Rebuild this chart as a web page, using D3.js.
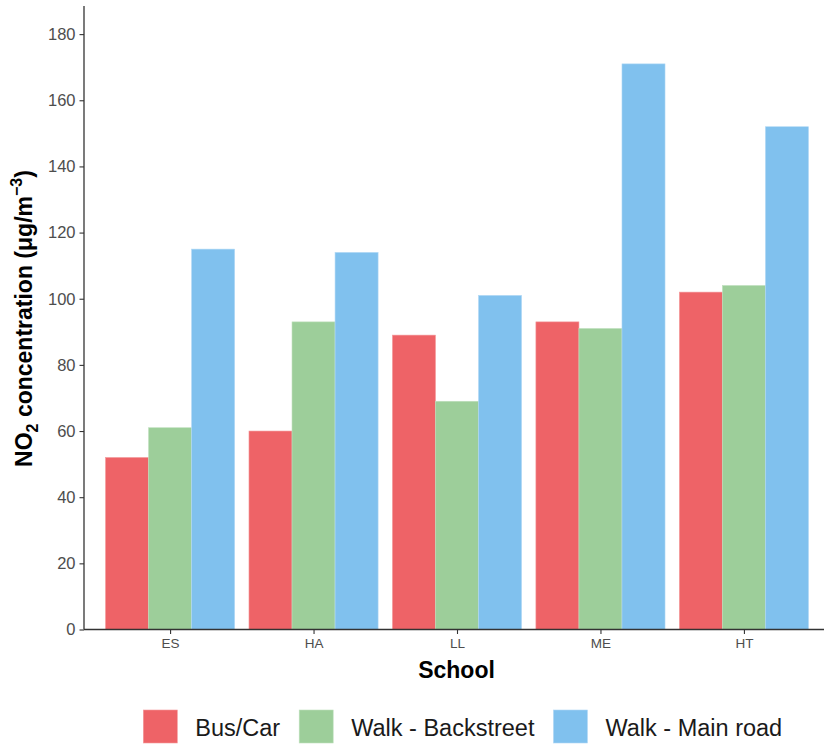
<!DOCTYPE html>
<html><head><meta charset="utf-8">
<script src="https://cdn.jsdelivr.net/npm/d3@7"></script>
<style>body{margin:0;background:#fff;} text{font-family:"Liberation Sans",Arial,sans-serif;}</style>
</head><body><svg id="c" width="824" height="747"></svg>
<script>
const schools = ["ES","HA","LL","ME","HT"];
const seriesNames = ["Bus/Car","Walk - Backstreet","Walk - Main road"];
const busCar = [52,60,89,93,102];
const walkBack = [61,93,69,91,104];
const walkMain = [115,114,101,171,152];
const yTicks = [0,20,40,60,80,100,120,140,160,180];
const colors = ["#EE6367","#9DCE9A","#80C1EE"];
const strokes = ["#F49A9C","#BFE0BD","#B0D8F5"];

(function(){
const svg = d3.select("#c");
const pLeft = 84, pRight = 830, pTop = 6, pBottom = 629.5;
const unit = (pRight-pLeft)/5.2;
const x = d3.scaleLinear().domain([0.4,5.6]).range([pLeft,pRight]);
const xc = d => x(1 + schools.indexOf(d));
const y = d3.scaleLinear().domain([0,188.5]).range([pBottom, pTop]);
const bw = unit*0.9/3;
const series = [busCar, walkBack, walkMain];

series.forEach((vals,si)=>{
  svg.append("g").selectAll("rect").data(schools).join("rect")
    .attr("x", d => xc(d) - unit*0.45 + si*bw)
    .attr("width", bw)
    .attr("y", (d,i) => y(vals[i]))
    .attr("height", (d,i) => y(0)-y(vals[i]))
    .attr("fill", colors[si])
    .attr("stroke", strokes[si]).attr("stroke-width",0.6);
});

const ya = svg.append("g").attr("transform",`translate(${pLeft},0)`)
  .call(d3.axisLeft(y).tickValues(yTicks).tickSize(4.5).tickPadding(4));
ya.attr("font-size",null);
ya.select(".domain").attr("stroke","#333").attr("stroke-width",1.3).attr("d",`M0,${pTop}V${pBottom}`);
ya.selectAll(".tick line").attr("stroke","#333").attr("stroke-width",1.1);
ya.selectAll(".tick text").attr("fill","#4D4D4D").style("font-size","16.5px");

const xs = d3.scalePoint().domain(schools).range([xc("ES"), xc("HT")]);
const xa = svg.append("g").attr("transform",`translate(0,${pBottom})`)
  .call(d3.axisBottom(xs).tickSize(4.5).tickPadding(4));
xa.attr("font-size",null);
xa.select(".domain").attr("stroke","#333").attr("stroke-width",1.3).attr("d",`M${pLeft},0H${pRight}`);
xa.selectAll(".tick line").attr("stroke","#333").attr("stroke-width",1.1);
xa.selectAll(".tick text").attr("fill","#4D4D4D").style("font-size","13.5px");

svg.append("text").attr("x",456.5).attr("y",678).attr("text-anchor","middle")
  .attr("font-size",23).attr("font-weight","bold").attr("fill","#000").text("School");
const yt = svg.append("text").attr("transform","translate(32,318.5) rotate(-90)")
  .attr("text-anchor","middle").attr("font-size",23).attr("font-weight","bold").attr("fill","#000");
yt.append("tspan").text("NO");
yt.append("tspan").attr("font-size",16).attr("dy",6).text("2");
yt.append("tspan").attr("dy",-6).text(" concentration (\u03BCg/m");
yt.append("tspan").attr("font-size",16).attr("dy",-10).text("\u22123");
yt.append("tspan").attr("dy",10).text(")");

const lg = svg.append("g");
let lx = 143.3;
seriesNames.forEach((n,i)=>{
  lg.append("rect").attr("x",lx).attr("y",710).attr("width",34).attr("height",33)
    .attr("fill",colors[i]).attr("stroke",strokes[i]).attr("stroke-width",0.6);
  const t = lg.append("text").attr("x",lx+52).attr("y",735.5).attr("font-size",23.5).attr("fill","#1a1a1a").text(n);
  lx = lx + 52 + t.node().getComputedTextLength() + 19;
});
})();
</script></body></html>
